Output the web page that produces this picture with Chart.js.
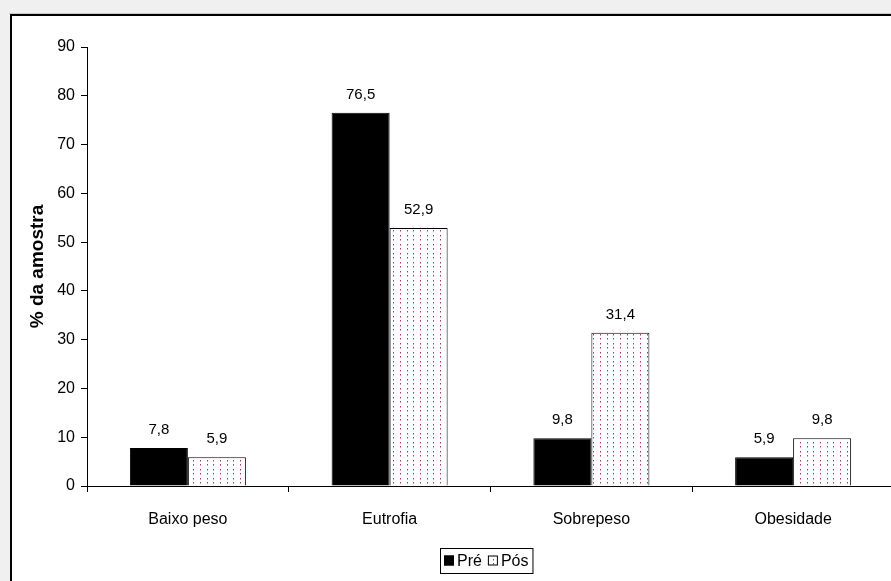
<!DOCTYPE html>
<html>
<head>
<meta charset="utf-8">
<script src="https://cdn.jsdelivr.net/npm/chart.js@4"></script>
<style>
  html, body { margin: 0; padding: 0; overflow: hidden; background: #f0f0f0; }
  #chart { position: absolute; left: 0; top: 0; }
</style>
</head>
<body>
<canvas id="chart" width="910" height="581"></canvas>
<script>
const categories = ['Baixo peso', 'Eutrofia', 'Sobrepeso', 'Obesidade'];
const seriesNames = ['Pré', 'Pós'];
const preValues = [7.8, 76.5, 9.8, 5.9];
const posValues = [5.9, 52.9, 31.4, 9.8];
const yTicks = [0, 10, 20, 30, 40, 50, 60, 70, 80, 90];

const FONT = "'Liberation Sans', Arial, sans-serif";

// small dotted fill used for the "Pós" bars
function makeDots() {
    const c = document.createElement('canvas');
    c.width = 20;
    c.height = 9;
    const g = c.getContext('2d');
    g.fillStyle = '#fff';
    g.fillRect(0, 0, 20, 9);
    [0, 7, 13].forEach(function (x) {
        [1, 5].forEach(function (y) {
            g.fillStyle = '#b03070';
            g.fillRect(x, y, 1, 1);
            g.fillStyle = '#dc98bc';
            g.fillRect(x, y + 1, 1, 1);
        });
    });
    return g.createPattern(c, 'repeat');
}

const ctx = document.getElementById('chart').getContext('2d');
const dots = makeDots();

const framePlugin = {
    id: 'frame',
    beforeDraw(chart) {
        const c = chart.ctx;
        const w = chart.width, h = chart.height;
        c.save();
        c.fillStyle = '#f0f0f0';
        c.fillRect(0, 0, w, h);
        c.fillStyle = '#c8c8c8';
        c.fillRect(9, 13, w, 1);
        c.fillStyle = '#fff';
        c.fillRect(10, 14, w, h);
        c.fillStyle = '#000';
        c.fillRect(10, 14, w, 2);
        c.fillRect(10, 14, 2, h);
        c.restore();
    }
};

const valueLabels = {
    id: 'valueLabels',
    afterDatasetsDraw(chart) {
        const c = chart.ctx;
        c.save();
        c.font = '15px ' + FONT;
        c.fillStyle = '#000';
        c.textAlign = 'center';
        c.textBaseline = 'middle';
        chart.data.datasets.forEach(function (ds, i) {
            chart.getDatasetMeta(i).data.forEach(function (bar, j) {
                const txt = ds.data[j].toFixed(1).replace('.', ',');
                c.fillText(txt, bar.x, bar.y - 18);
            });
        });
        c.restore();
    }
};

const boxLegend = {
    id: 'boxLegend',
    afterDraw(chart) {
        const c = chart.ctx;
        const sets = chart.data.datasets;
        c.save();
        c.font = '16px ' + FONT;
        c.textBaseline = 'middle';
        const sw = 10, gap = 3, sep = 6, padX = 4;
        let total = padX * 2;
        sets.forEach(function (ds, i) {
            total += sw + gap + c.measureText(ds.label).width + (i < sets.length - 1 ? sep : 0);
        });
        const left = Math.round(486 - total / 2);
        const top = 548, h = 25, mid = top + h / 2;
        c.strokeStyle = '#000';
        c.lineWidth = 1;
        c.strokeRect(left + 0.5, top + 0.5, total, h);
        let x = left + padX;
        sets.forEach(function (ds) {
            c.fillStyle = ds.backgroundColor;
            c.fillRect(x, mid - 5, sw, sw);
            c.strokeStyle = '#000';
            c.strokeRect(x + 0.5, mid - 4.5, sw - 1, sw - 1);
            x += sw + gap;
            c.fillStyle = '#000';
            c.fillText(ds.label, x, mid + 1);
            x += c.measureText(ds.label).width + sep;
        });
        c.restore();
    }
};

new Chart(ctx, {
    type: 'bar',
    data: {
        labels: categories,
        datasets: [{
            label: seriesNames[0],
            data: preValues,
            backgroundColor: '#000',
            borderColor: '#000',
            borderWidth: 1,
            categoryPercentage: 0.575,
            barPercentage: 1.0
        }, {
            label: seriesNames[1],
            data: posValues,
            backgroundColor: dots,
            borderColor: '#000',
            borderWidth: 1,
            categoryPercentage: 0.575,
            barPercentage: 1.0
        }]
    },
    options: {
        responsive: false,
        animation: false,
        layout: { padding: { left: 0, right: 16, top: 47, bottom: 0 } },
        plugins: {
            legend: { display: false },
            tooltip: { enabled: false }
        },
        scales: {
            x: {
                grid: { offset: true, drawOnChartArea: false, tickLength: 6, color: '#000' },
                border: { color: '#000', width: 1 },
                ticks: { color: '#000', padding: 18, font: { family: FONT, size: 16 } },
                afterFit(s) { s.height = 95; }
            },
            y: {
                min: 0,
                max: 90,
                afterBuildTicks(s) { s.ticks = yTicks.map(function (v) { return { value: v }; }); },
                grid: { drawOnChartArea: false, tickLength: 6, color: '#000' },
                border: { color: '#000', width: 1 },
                ticks: { color: '#000', padding: 6, font: { family: FONT, size: 16 } },
                title: {
                    display: true,
                    text: '% da amostra',
                    color: '#000',
                    padding: { top: 26, bottom: 0 },
                    font: { family: FONT, size: 19, weight: 'bold' }
                },
                afterFit(s) { s.width = 87; }
            }
        }
    },
    plugins: [framePlugin, valueLabels, boxLegend]
});
</script>
</body>
</html>
